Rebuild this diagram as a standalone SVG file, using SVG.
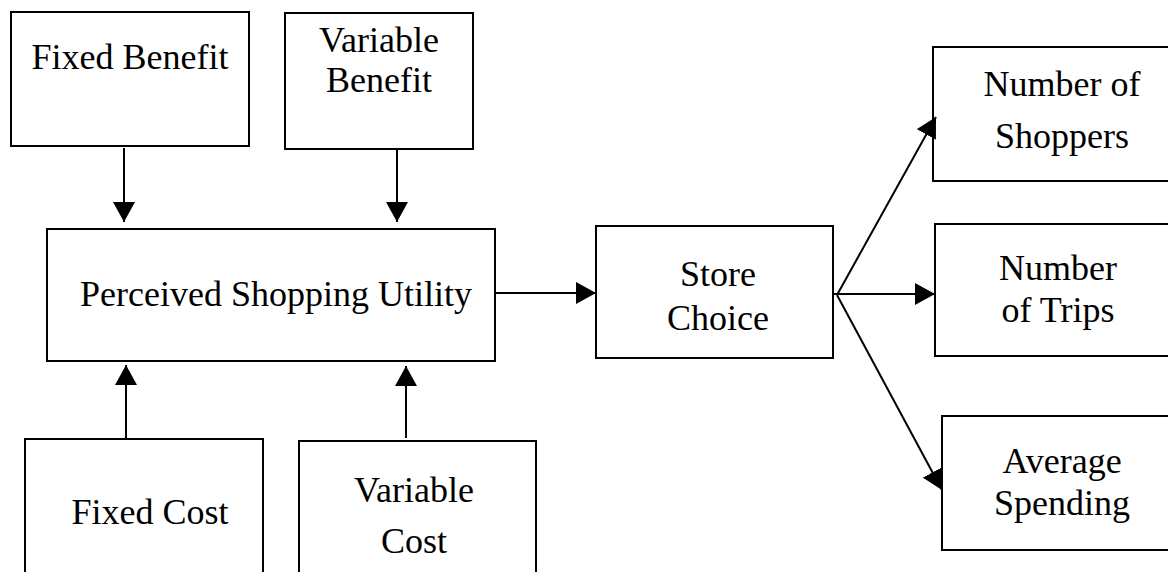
<svg xmlns="http://www.w3.org/2000/svg" width="1168" height="572" viewBox="0 0 1168 572">
<defs>
<style>
.box{fill:#fff;stroke:#000;stroke-width:2}
.t{font-family:"Liberation Serif","Times New Roman",serif;font-size:36px;fill:#000;text-anchor:middle}
.c{stroke:#000;stroke-width:2;fill:none}
</style>
<marker id="ah" viewBox="0 0 20 22" refX="20" refY="11" markerWidth="20" markerHeight="22" markerUnits="userSpaceOnUse" orient="auto">
<path d="M0,0 L20,11 L0,22 Z" fill="#000"/>
</marker>
</defs>
<rect width="1168" height="572" fill="#fff"/>
<g id="fixed-benefit">
<rect class="box" x="11" y="12" width="238" height="134"/>
<text class="t" x="130" y="69">Fixed Benefit</text>
</g>
<g id="variable-benefit">
<rect class="box" x="285" y="13" width="188" height="136"/>
<text class="t" x="379" y="52">Variable</text>
<text class="t" x="379" y="92">Benefit</text>
</g>
<g id="perceived-utility">
<rect class="box" x="47" y="229" width="448" height="132"/>
<text class="t" x="276" y="306">Perceived Shopping Utility</text>
</g>
<g id="fixed-cost">
<rect class="box" x="25" y="439" width="238" height="150"/>
<text class="t" x="150" y="524">Fixed Cost</text>
</g>
<g id="variable-cost">
<rect class="box" x="299" y="441" width="237" height="150"/>
<text class="t" x="414" y="502">Variable</text>
<text class="t" x="414" y="553">Cost</text>
</g>
<g id="store-choice">
<rect class="box" x="596" y="226" width="237" height="132"/>
<text class="t" x="718" y="286">Store</text>
<text class="t" x="718" y="330">Choice</text>
</g>
<g id="number-of-shoppers">
<rect class="box" x="933" y="47" width="245" height="134"/>
<text class="t" x="1062" y="96">Number of</text>
<text class="t" x="1062" y="148">Shoppers</text>
</g>
<g id="number-of-trips">
<rect class="box" x="935" y="224" width="245" height="132"/>
<text class="t" x="1058" y="280">Number</text>
<text class="t" x="1058" y="322">of Trips</text>
</g>
<g id="average-spending">
<rect class="box" x="942" y="416" width="238" height="134"/>
<text class="t" x="1062" y="473">Average</text>
<text class="t" x="1062" y="515">Spending</text>
</g>
<g id="connectors">
<line class="c" x1="124" y1="148" x2="124" y2="222" marker-end="url(#ah)"/>
<line class="c" x1="397" y1="150" x2="397" y2="222" marker-end="url(#ah)"/>
<line class="c" x1="126" y1="439" x2="126" y2="365" marker-end="url(#ah)"/>
<line class="c" x1="406" y1="438" x2="406" y2="366" marker-end="url(#ah)"/>
<line class="c" x1="496" y1="293" x2="596" y2="293" marker-end="url(#ah)"/>
<line class="c" x1="837" y1="295" x2="936" y2="117" marker-end="url(#ah)"/>
<line class="c" x1="834" y1="294" x2="935" y2="294" marker-end="url(#ah)"/>
<line class="c" x1="837" y1="295" x2="942" y2="490" marker-end="url(#ah)"/>
</g>
</svg>
